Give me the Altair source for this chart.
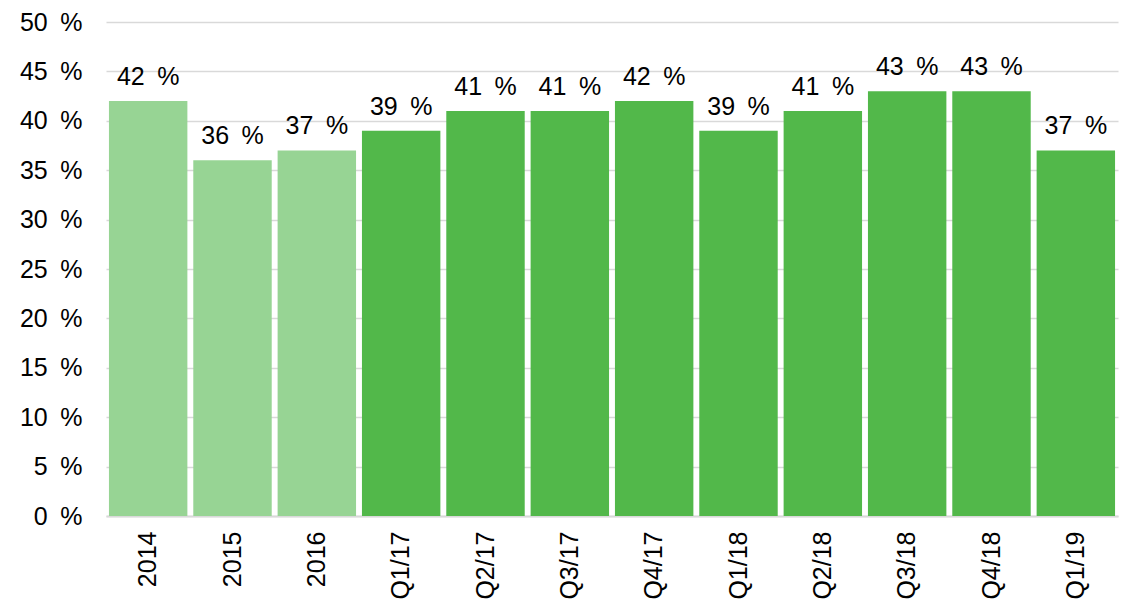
import altair as alt
import pandas as pd

categories = ["2014", "2015", "2016", "Q1/17", "Q2/17", "Q3/17", "Q4/17",
              "Q1/18", "Q2/18", "Q3/18", "Q4/18", "Q1/19"]
values = [42, 36, 37, 39, 41, 41, 42, 39, 41, 43, 43, 37]
groups = ["annual"] * 3 + ["quarterly"] * 9

SEP = "\u2002"
df = pd.DataFrame({"cat": categories, "val": values, "grp": groups})
df["label"] = df["val"].astype(str) + SEP + "%"

FONT = "Liberation Sans"

x = alt.X("cat:N", sort=categories, title=None,
          scale=alt.Scale(paddingInner=0.07, paddingOuter=0.035),
          axis=alt.Axis(labelAngle=-90, labelFontSize=25, labelFont=FONT,
                        labelColor="#000000", ticks=False, labelPadding=15,
                        domainColor="#D9D9D9", domainWidth=2,
                        labelBaseline="middle", labelAlign="right"))
y = alt.Y("val:Q", title=None,
          scale=alt.Scale(domain=[0, 50], nice=False),
          axis=alt.Axis(values=list(range(0, 51, 5)),
                        labelExpr="datum.value + '\u2002%'",
                        labelFontSize=25, labelFont=FONT, labelColor="#000000",
                        ticks=False, domain=False, labelPadding=24,
                        gridColor="#D9D9D9", gridWidth=1.5))

bars = alt.Chart(df).mark_bar().encode(
    x=x, y=y,
    color=alt.Color("grp:N", legend=None,
                    scale=alt.Scale(domain=["annual", "quarterly"],
                                    range=["#97D494", "#52B84A"])),
)

text = alt.Chart(df).mark_text(baseline="alphabetic", dy=-16, fontSize=25,
                               font=FONT, color="#000000").encode(
    x=alt.X("cat:N", sort=categories),
    y=alt.Y("val:Q"),
    text="label:N",
)

chart = (bars + text).properties(
    width=1012, height=494,
    autosize=alt.AutoSizeParams(type="none"),
    padding={"left": 98, "top": 14, "right": 3, "bottom": 95},
    background="#FFFFFF",
).configure_view(stroke=None)

chart.save("out.html", embed_options={"renderer": "svg", "actions": False})
